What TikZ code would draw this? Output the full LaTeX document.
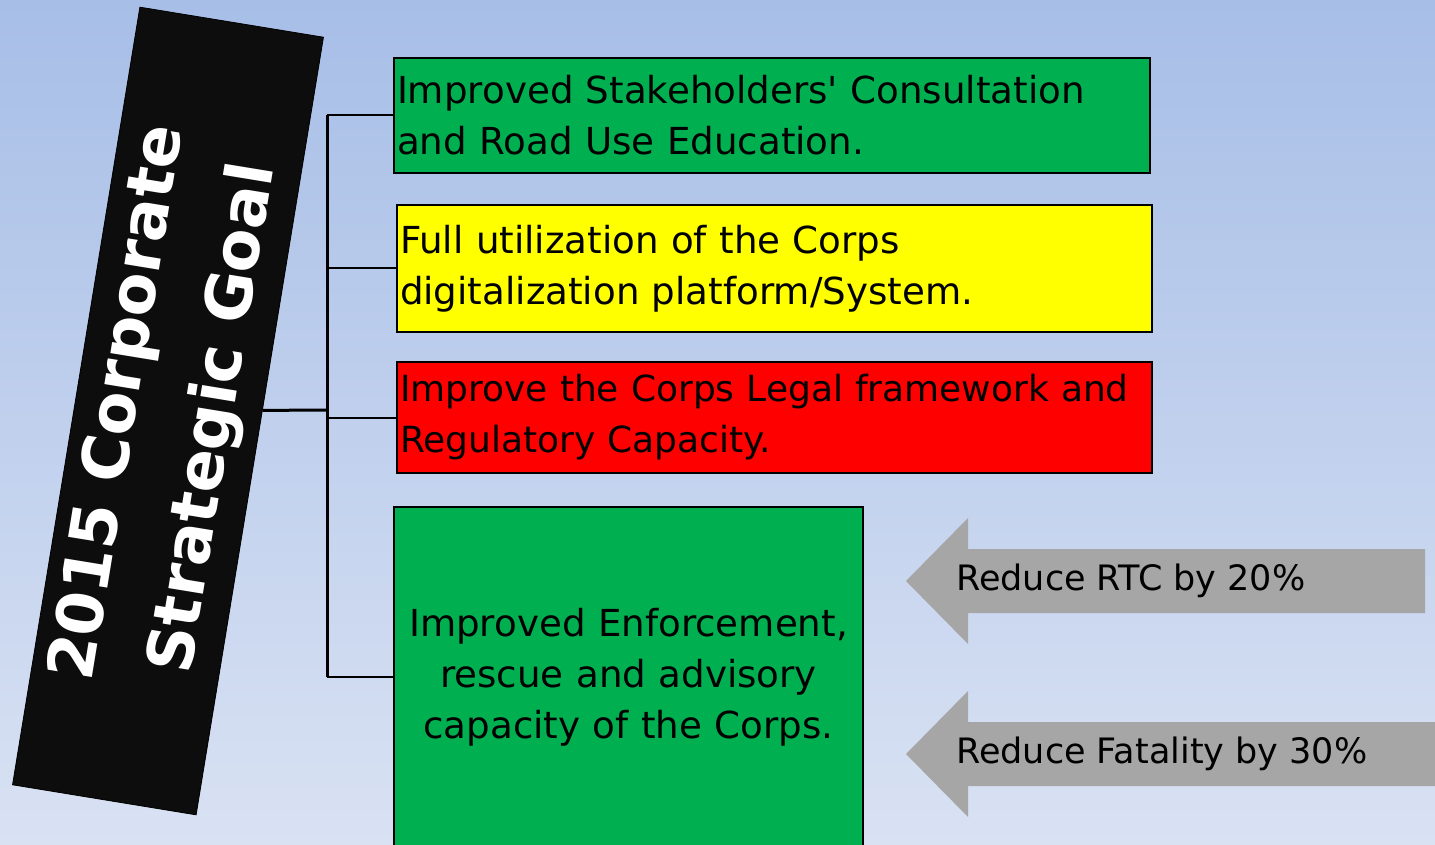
\documentclass[tikz,border=0pt]{standalone}
\usepackage{fontspec}
\setmainfont{DejaVu Sans}
\usetikzlibrary{calc,positioning}

\definecolor{bgtop}{RGB}{167,190,231}
\definecolor{bgbottom}{RGB}{217,226,243}
\definecolor{goalblack}{RGB}{13,13,13}
\definecolor{itemgreen}{RGB}{0,176,80}
\definecolor{itemyellow}{RGB}{255,255,0}
\definecolor{itemred}{RGB}{255,0,0}
\definecolor{pointergray}{RGB}{166,166,166}

\begin{document}
\begin{tikzpicture}[
  x=0.5pt,
  y=-0.5pt,
  goalbox/.style={draw=black, fill=goalblack, text=white, align=center, inner sep=0pt,
    minimum width=394pt, minimum height=93pt, font=\fontsize{32}{48}\selectfont\bfseries},
  item/.style={draw=black, line width=1pt, anchor=north west, inner xsep=1.5pt, inner ysep=0pt,
    align=left, font=\fontsize{18.6}{25.5}\selectfont},
  target/.style={anchor=west, inner sep=0pt, font=\fontsize{17.5}{25.5}\selectfont},
  pointer/.style={fill=pointergray},
  trunk/.style={line width=1.5pt},
  branch/.style={line width=1pt}
]
  \useasboundingbox (0,0) rectangle (1435,845);
  \clip (0,0) rectangle (1435,845);
  \shade[top color=bgtop, bottom color=bgbottom] (0,0) rectangle (1435,845);

  % goal banner
  \node[goalbox, rotate=80.7] (goal) at (168,411) {2015 Corporate\\Strategic Goal};

  % objectives
  \node[item, fill=itemgreen, minimum width=378pt, minimum height=57.5pt, text width=375pt] (consult) at (393,57)
    {Improved Stakeholders\textquotesingle{} Consultation\\and Road Use Education.};
  \node[item, fill=itemyellow, minimum width=377.5pt, minimum height=63.5pt, text width=374.5pt] (digital) at (396,204)
    {Full utilization of the Corps\\digitalization platform/System.};
  \node[item, fill=itemred, minimum width=377.5pt, minimum height=55.5pt, text width=374.5pt,
    font=\fontsize{18}{25.5}\selectfont] (legal) at (396,361)
    {Improve the Corps Legal framework and\\Regulatory Capacity.};
  \node[item, fill=itemgreen, minimum width=234.5pt, minimum height=170pt, text width=231.5pt, align=center] (enforce) at (393,506)
    {Improved Enforcement,\\rescue and advisory\\capacity of the Corps.};

  % connectors
  \coordinate (hub) at (327,410);
  \draw[trunk] (hub) -- (goal);
  \draw[trunk] (consult.west -| hub) -- (enforce.west -| hub);
  \foreach \obj in {consult,digital,legal,enforce}
    \draw[branch] (\obj.west -| hub) -- (\obj.west);

  % targets
  \fill[pointer] (906,581) -- (968,518) -- (968,549) -- (1425,549) -- (1425,613) -- (968,613) -- (968,644) -- cycle;
  \fill[pointer] (906,754) -- (968,691) -- (968,722) -- (1440,722) -- (1440,786) -- (968,786) -- (968,817) -- cycle;
  \node[target] (rtc) at (956,581) {Reduce RTC by 20\%};
  \node[target] (fatality) at (956,754) {Reduce Fatality by 30\%};
\end{tikzpicture}
\end{document}
